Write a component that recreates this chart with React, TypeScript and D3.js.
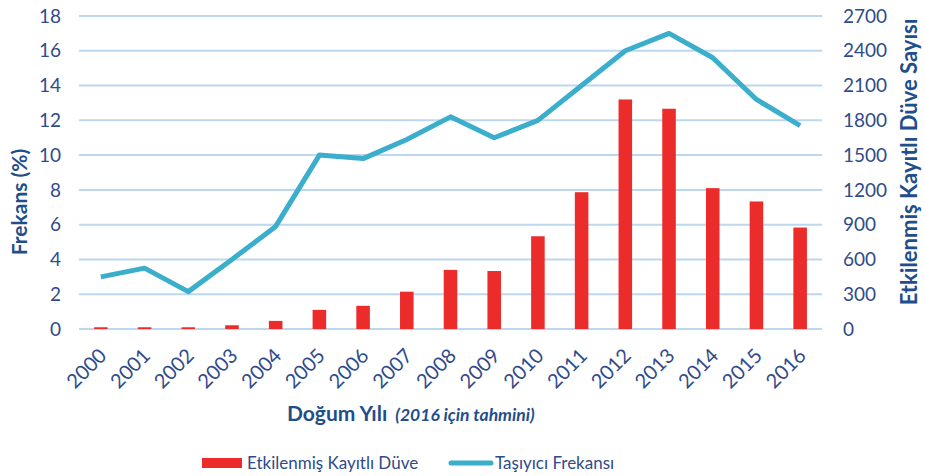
import React from 'react';
import * as d3 from 'd3';

// birth years
const years = ['2000', '2001', '2002', '2003', '2004', '2005', '2006', '2007', '2008',
  '2009', '2010', '2011', '2012', '2013', '2014', '2015', '2016'];

// affected registered heifers (right axis, count)
const heifers = [15, 15, 15, 32, 70, 165, 200, 322, 510, 500, 800, 1180, 1980, 1900, 1215, 1100, 875];

// carrier frequency (left axis, %)
const carrierFreq = [3.0, 3.5, 2.15, 4.0, 5.9, 10.0, 9.8, 10.9, 12.2, 11.0, 12.0, 14.0, 16.0, 17.0, 15.6, 13.2, 11.7];

const leftTicks = [0, 2, 4, 6, 8, 10, 12, 14, 16, 18];
const rightTicks = [0, 300, 600, 900, 1200, 1500, 1800, 2100, 2400, 2700];

export default function App() {
  const width = 925;
  const height = 476;
  const marginLeft = 79;
  const marginRight = 103;
  const marginTop = 16;
  const plotBottom = 329;

  const font = 'Lato, "Open Sans", sans-serif';
  const textColor = '#2f4b8a';
  const titleColor = '#1f4e8c';

  const x = d3.scaleBand()
    .domain(years)
    .range([marginLeft, width - marginRight])
    .padding(0);

  const yLeft = d3.scaleLinear().domain([0, 18]).range([plotBottom, marginTop]);
  const yRight = d3.scaleLinear().domain([0, 2700]).range([plotBottom, marginTop]);

  const barW = x.bandwidth() * 0.31;

  const line = d3.line<number>()
    .x((_, i) => x(years[i])! + x.bandwidth() / 2)
    .y(d => yLeft(d));

  return (
    <svg width={width} height={height} style={{ position: 'absolute', left: 0, top: 0, background: '#fff' }}>
      {/* grid */}
      <g>
        {leftTicks.map(t => (
          <line key={t} x1={marginLeft} x2={width - marginRight} y1={yLeft(t)} y2={yLeft(t)}
            stroke="#bdd7ee" strokeWidth={2} />
        ))}
      </g>

      {/* left ticks */}
      <g fontFamily={font} fontSize={19} fill={textColor} textAnchor="end">
        {leftTicks.map(t => (
          <text key={t} x={61} y={yLeft(t)} dy="0.35em">{t}</text>
        ))}
      </g>

      {/* right ticks */}
      <g fontFamily={font} fontSize={19} fill={textColor} textAnchor="start">
        {rightTicks.map(t => (
          <text key={t} x={843} y={yRight(t)} dy="0.35em">{t}</text>
        ))}
      </g>

      {/* bars */}
      <g fill="#ec2b2b">
        {heifers.map((v, i) => (
          <rect key={years[i]} x={x(years[i])! + (x.bandwidth() - barW) / 2} y={yRight(v)}
            width={barW} height={yRight(0) - yRight(v)} />
        ))}
      </g>

      {/* line */}
      <path d={line(carrierFreq) ?? ''} fill="none" stroke="#3aaecb" strokeWidth={5}
        strokeLinejoin="round" />

      {/* x tick labels */}
      <g fontFamily={font} fontSize={20} fill={textColor} textAnchor="end">
        {years.map(yr => {
          const cx = x(yr)! + x.bandwidth() / 2 + 2;
          const cy = 352;
          return (
            <text key={yr} x={cx} y={cy} dy="0.35em" transform={`rotate(-45,${cx},${cy})`}>{yr}</text>
          );
        })}
      </g>

      {/* axis titles */}
      <text transform="translate(27,202) rotate(-90)" textAnchor="middle" fontFamily={font}
        fontWeight="bold" fontSize={21} fill={titleColor}>Frekans (%)</text>
      <text transform="translate(917,162) rotate(-90)" textAnchor="middle" fontFamily={font}
        fontWeight="bold" fontSize={22} fill={titleColor}>Etkilenmiş Kayıtlı Düve Sayısı</text>

      <text x={287} y={421} fontFamily={font} fill={titleColor}>
        <tspan fontWeight="bold" fontSize={21}>Doğum Yılı</tspan>
        <tspan dx={8} fontWeight="bold" fontStyle="italic" fontSize={17.5}>(2016 için tahmini)</tspan>
      </text>

      {/* legend */}
      <rect x={202} y={458} width={40} height={10} fill="#ec2b2b" />
      <text x={247} y={463} dy="0.35em" fontFamily={font} fontSize={17} fill={textColor}>Etkilenmiş Kayıtlı Düve</text>
      <line x1={451} x2={491} y1={463} y2={463} stroke="#3aaecb" strokeWidth={5} strokeLinecap="round" />
      <text x={495} y={463} dy="0.35em" fontFamily={font} fontSize={17} fill={textColor}>Taşıyıcı Frekansı</text>
    </svg>
  );
}
